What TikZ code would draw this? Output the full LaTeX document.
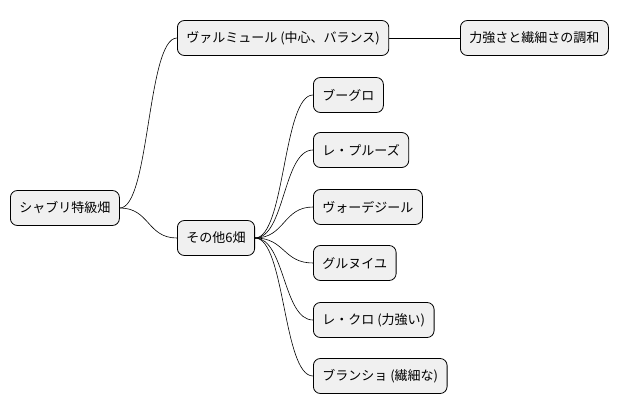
\documentclass[tikz,border=0pt]{standalone}
\usepackage{fontspec}
\setmainfont{Noto Sans CJK JP}
\begin{document}
\begin{tikzpicture}[x=1pt,y=-1pt,
  box/.style={draw=black,fill=black!6,rounded corners=7pt,line width=0.8pt,anchor=west,
    minimum height=35pt,inner xsep=9pt,font=\fontsize{13}{15}\selectfont},
  link/.style={draw=black,line width=0.6pt}]
\useasboundingbox (0,0) rectangle (630,415);
\node[box] (root) at (10,208) {シャブリ特級畑};
\node[box] (val) at (177,38) {ヴァルミュール (中心、バランス)};
\node[box] (har) at (460,38) {力強さと繊細さの調和};
\node[box] (oth) at (177,238) {その他6畑};
\node[box] (c1) at (313,95) {ブーグロ};
\node[box] (c2) at (313,150) {レ・プルーズ};
\node[box] (c3) at (313,207) {ヴォーデジール};
\node[box] (c4) at (313,263) {グルヌイユ};
\node[box] (c5) at (313,320) {レ・クロ (力強い)};
\node[box] (c6) at (313,376) {ブランショ (繊細な)};
\draw[link] (root.east) .. controls +(30,0) and +(-30,0) .. (val.west);
\draw[link] (root.east) .. controls +(30,0) and +(-30,0) .. (oth.west);
\draw[link] (val.east) -- (har.west);
\foreach \c in {c1,c2,c3,c4,c5,c6}
  \draw[link] (oth.east) .. controls +(30,0) and +(-30,0) .. (\c.west);
\end{tikzpicture}
\end{document}
